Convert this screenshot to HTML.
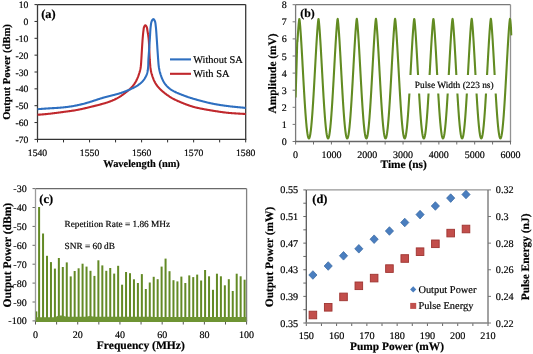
<!DOCTYPE html>
<html><head><meta charset="utf-8"><style>
html,body{margin:0;padding:0;background:#fff;width:533px;height:354px;overflow:hidden}
svg{display:block;font-family:'Liberation Serif',serif;will-change:transform;text-rendering:geometricPrecision}
</style></head><body>
<svg width="533" height="354" viewBox="0 0 533 354" font-family="'Liberation Serif', serif">
<rect width="533" height="354" fill="#fff"/>
<line x1="34.50" y1="4.60" x2="37.50" y2="4.60" stroke="#2b2b2b" stroke-width="1"/>
<text x="28.40" y="8.10" font-size="9.7" text-anchor="end" fill="#000" stroke="#000" stroke-width="0.18">10</text>
<line x1="34.50" y1="21.45" x2="37.50" y2="21.45" stroke="#2b2b2b" stroke-width="1"/>
<text x="28.40" y="24.95" font-size="9.7" text-anchor="end" fill="#000" stroke="#000" stroke-width="0.18">0</text>
<line x1="34.50" y1="38.30" x2="37.50" y2="38.30" stroke="#2b2b2b" stroke-width="1"/>
<text x="28.40" y="41.80" font-size="9.7" text-anchor="end" fill="#000" stroke="#000" stroke-width="0.18">-10</text>
<line x1="34.50" y1="55.15" x2="37.50" y2="55.15" stroke="#2b2b2b" stroke-width="1"/>
<text x="28.40" y="58.65" font-size="9.7" text-anchor="end" fill="#000" stroke="#000" stroke-width="0.18">-20</text>
<line x1="34.50" y1="72.00" x2="37.50" y2="72.00" stroke="#2b2b2b" stroke-width="1"/>
<text x="28.40" y="75.50" font-size="9.7" text-anchor="end" fill="#000" stroke="#000" stroke-width="0.18">-30</text>
<line x1="34.50" y1="88.85" x2="37.50" y2="88.85" stroke="#2b2b2b" stroke-width="1"/>
<text x="28.40" y="92.35" font-size="9.7" text-anchor="end" fill="#000" stroke="#000" stroke-width="0.18">-40</text>
<line x1="34.50" y1="105.70" x2="37.50" y2="105.70" stroke="#2b2b2b" stroke-width="1"/>
<text x="28.40" y="109.20" font-size="9.7" text-anchor="end" fill="#000" stroke="#000" stroke-width="0.18">-50</text>
<line x1="34.50" y1="122.55" x2="37.50" y2="122.55" stroke="#2b2b2b" stroke-width="1"/>
<text x="28.40" y="126.05" font-size="9.7" text-anchor="end" fill="#000" stroke="#000" stroke-width="0.18">-60</text>
<line x1="34.50" y1="139.40" x2="37.50" y2="139.40" stroke="#2b2b2b" stroke-width="1"/>
<text x="28.40" y="142.90" font-size="9.7" text-anchor="end" fill="#000" stroke="#000" stroke-width="0.18">-70</text>
<line x1="37.50" y1="139.40" x2="37.50" y2="142.40" stroke="#2b2b2b" stroke-width="1"/>
<text x="37.50" y="156.00" font-size="9.7" text-anchor="middle" fill="#000" stroke="#000" stroke-width="0.18">1540</text>
<line x1="63.52" y1="139.40" x2="63.52" y2="142.40" stroke="#2b2b2b" stroke-width="1"/>
<line x1="89.55" y1="139.40" x2="89.55" y2="142.40" stroke="#2b2b2b" stroke-width="1"/>
<text x="89.55" y="156.00" font-size="9.7" text-anchor="middle" fill="#000" stroke="#000" stroke-width="0.18">1550</text>
<line x1="115.57" y1="139.40" x2="115.57" y2="142.40" stroke="#2b2b2b" stroke-width="1"/>
<line x1="141.60" y1="139.40" x2="141.60" y2="142.40" stroke="#2b2b2b" stroke-width="1"/>
<text x="141.60" y="156.00" font-size="9.7" text-anchor="middle" fill="#000" stroke="#000" stroke-width="0.18">1560</text>
<line x1="167.62" y1="139.40" x2="167.62" y2="142.40" stroke="#2b2b2b" stroke-width="1"/>
<line x1="193.65" y1="139.40" x2="193.65" y2="142.40" stroke="#2b2b2b" stroke-width="1"/>
<text x="193.65" y="156.00" font-size="9.7" text-anchor="middle" fill="#000" stroke="#000" stroke-width="0.18">1570</text>
<line x1="219.67" y1="139.40" x2="219.67" y2="142.40" stroke="#2b2b2b" stroke-width="1"/>
<line x1="245.70" y1="139.40" x2="245.70" y2="142.40" stroke="#2b2b2b" stroke-width="1"/>
<text x="245.70" y="156.00" font-size="9.7" text-anchor="middle" fill="#000" stroke="#000" stroke-width="0.18">1580</text>
<line x1="37.50" y1="4.60" x2="245.70" y2="4.60" stroke="#333" stroke-width="1.3"/>
<line x1="245.70" y1="4.60" x2="245.70" y2="139.40" stroke="#3a3a3a" stroke-width="1.3"/>
<line x1="37.50" y1="4.60" x2="37.50" y2="139.40" stroke="#3a3a3a" stroke-width="1.3"/>
<line x1="36.90" y1="139.40" x2="246.30" y2="139.40" stroke="#333" stroke-width="1.3"/>
<text x="141.60" y="166.80" font-size="10.4" font-weight="bold" text-anchor="middle" fill="#000" stroke="#000" stroke-width="0.18">Wavelength (nm)</text>
<text x="10.10" y="72.00" font-size="10.6" font-weight="bold" text-anchor="middle" fill="#000" stroke="#000" stroke-width="0.18" transform="rotate(-90 10.1 72.0)">Output Power (dBm)</text>
<text x="41.20" y="17.50" font-size="12.4" font-weight="bold" text-anchor="start" fill="#000" stroke="#000" stroke-width="0.18">(a)</text>
<path d="M37.50,114.80 L39.74,114.63 L40.01,114.61 L40.31,114.58 L40.63,114.56 L40.97,114.53 L41.32,114.50 L41.69,114.47 L42.08,114.44 L42.48,114.40 L42.89,114.37 L43.32,114.33 L43.76,114.29 L44.20,114.25 L44.66,114.21 L45.12,114.17 L45.59,114.12 L46.06,114.08 L46.54,114.03 L47.03,113.98 L47.51,113.93 L48.00,113.88 L48.49,113.83 L48.98,113.78 L49.48,113.73 L49.97,113.67 L50.47,113.62 L50.96,113.56 L51.46,113.50 L51.96,113.44 L52.45,113.39 L52.95,113.33 L53.45,113.26 L53.94,113.20 L54.44,113.14 L54.94,113.08 L55.43,113.02 L55.93,112.95 L56.43,112.89 L56.92,112.82 L57.42,112.76 L57.92,112.69 L58.41,112.63 L58.91,112.56 L59.41,112.49 L59.90,112.43 L60.40,112.36 L60.89,112.29 L61.39,112.23 L61.89,112.16 L62.38,112.09 L62.88,112.03 L63.38,111.96 L63.87,111.89 L64.37,111.83 L64.86,111.76 L65.36,111.70 L65.86,111.63 L66.35,111.56 L66.85,111.50 L67.35,111.43 L67.84,111.37 L68.34,111.30 L68.83,111.23 L69.33,111.16 L69.83,111.09 L70.32,111.02 L70.82,110.95 L71.31,110.88 L71.81,110.81 L72.30,110.74 L72.80,110.66 L73.29,110.59 L73.79,110.51 L74.28,110.43 L74.78,110.35 L75.27,110.26 L75.76,110.18 L76.26,110.09 L76.75,110.00 L77.24,109.91 L77.73,109.82 L78.22,109.73 L78.72,109.63 L79.21,109.54 L79.70,109.44 L80.19,109.34 L80.68,109.24 L81.17,109.13 L81.66,109.03 L82.15,108.92 L82.63,108.82 L83.12,108.71 L83.61,108.60 L84.10,108.49 L84.59,108.37 L85.07,108.26 L85.56,108.14 L86.05,108.03 L86.54,107.91 L87.02,107.80 L87.51,107.68 L88.00,107.56 L88.48,107.44 L88.97,107.32 L89.46,107.20 L89.94,107.08 L90.43,106.96 L90.91,106.84 L91.40,106.72 L91.89,106.60 L92.37,106.48 L92.86,106.36 L93.34,106.24 L93.83,106.12 L94.32,106.00 L94.80,105.88 L95.29,105.76 L95.77,105.64 L96.26,105.52 L96.74,105.39 L97.23,105.27 L97.71,105.15 L98.20,105.02 L98.68,104.90 L99.17,104.77 L99.65,104.64 L100.14,104.51 L100.62,104.38 L101.10,104.25 L101.59,104.12 L102.07,103.99 L102.55,103.85 L103.03,103.72 L103.51,103.58 L103.99,103.44 L104.47,103.30 L104.95,103.15 L105.43,103.00 L105.91,102.86 L106.38,102.70 L106.86,102.55 L107.33,102.39 L107.81,102.24 L108.28,102.07 L108.75,101.91 L109.22,101.74 L109.69,101.57 L110.16,101.40 L110.63,101.22 L111.09,101.04 L111.56,100.86 L112.02,100.67 L112.48,100.48 L112.94,100.28 L113.40,100.09 L113.85,99.88 L114.31,99.68 L114.76,99.47 L115.21,99.25 L115.66,99.03 L116.10,98.81 L116.54,98.58 L116.98,98.34 L117.42,98.11 L117.85,97.86 L118.28,97.62 L118.71,97.36 L119.14,97.11 L119.56,96.85 L119.99,96.58 L120.40,96.31 L120.82,96.04 L121.23,95.76 L121.65,95.48 L122.06,95.20 L122.47,94.92 L122.87,94.63 L123.28,94.34 L123.68,94.04 L124.08,93.75 L124.48,93.45 L124.88,93.15 L125.28,92.85 L125.68,92.54 L126.07,92.24 L126.46,91.93 L126.86,91.62 L127.24,91.31 L127.63,91.00 L128.01,90.68 L128.40,90.36 L128.77,90.04 L129.15,89.72 L129.52,89.39 L129.88,89.05 L130.25,88.71 L130.60,88.37 L130.95,88.02 L131.30,87.67 L131.64,87.31 L131.97,86.95 L132.30,86.58 L132.62,86.21 L132.93,85.83 L133.24,85.44 L133.54,85.05 L133.83,84.66 L134.12,84.25 L134.40,83.85 L134.67,83.44 L134.94,83.02 L135.20,82.60 L135.45,82.18 L135.70,81.75 L135.94,81.31 L136.17,80.88 L136.40,80.44 L136.62,79.99 L136.83,79.55 L137.04,79.10 L137.25,78.64 L137.44,78.19 L137.64,77.73 L137.82,77.27 L138.01,76.81 L138.19,76.34 L138.37,75.88 L138.54,75.41 L138.71,74.94 L138.87,74.47 L139.02,74.00 L139.18,73.52 L139.33,73.05 L139.47,72.57 L139.61,72.09 L139.75,71.61 L139.88,71.13 L140.00,70.65 L140.11,70.16 L140.23,69.67 L140.33,69.19 L140.43,68.70 L140.53,68.21 L140.61,67.71 L140.69,67.22 L140.76,66.73 L140.82,66.23 L140.88,65.73 L140.93,65.24 L140.98,64.74 L141.02,64.24 L141.05,63.74 L141.09,63.24 L141.13,62.74 L141.16,62.24 L141.19,61.74 L141.22,61.24 L141.25,60.74 L141.28,60.24 L141.32,59.74 L141.36,59.24 L141.39,58.74 L141.42,58.24 L141.45,57.75 L141.48,57.25 L141.51,56.75 L141.54,56.25 L141.57,55.75 L141.60,55.25 L141.63,54.75 L141.65,54.25 L141.68,53.75 L141.71,53.25 L141.74,52.75 L141.77,52.25 L141.80,51.75 L141.83,51.25 L141.86,50.75 L141.89,50.25 L141.91,49.75 L141.94,49.25 L141.98,48.75 L142.01,48.25 L142.04,47.75 L142.07,47.25 L142.10,46.75 L142.13,46.25 L142.17,45.75 L142.20,45.25 L142.22,44.75 L142.26,44.25 L142.29,43.75 L142.32,43.25 L142.36,42.75 L142.39,42.25 L142.43,41.75 L142.46,41.25 L142.49,40.75 L142.53,40.25 L142.57,39.75 L142.61,39.25 L142.65,38.75 L142.69,38.26 L142.73,37.76 L142.77,37.26 L142.82,36.76 L142.86,36.26 L142.90,35.76 L142.94,35.26 L142.99,34.76 L143.04,34.26 L143.09,33.77 L143.14,33.27 L143.19,32.77 L143.24,32.27 L143.30,31.77 L143.36,31.28 L143.43,30.78 L143.49,30.28 L143.55,29.79 L143.61,29.29 L143.67,28.79 L143.75,28.30 L143.86,27.81 L143.98,27.33 L144.16,26.86 L144.36,26.40 L144.58,25.95 L144.85,25.53 L145.23,25.21 L145.67,25.39 L146.00,25.77 L146.28,26.18 L146.51,26.63 L146.73,27.08 L146.90,27.55 L147.03,28.03 L147.13,28.52 L147.21,29.01 L147.28,29.51 L147.35,30.01 L147.42,30.50 L147.50,31.00 L147.58,31.49 L147.66,31.98 L147.75,32.48 L147.83,32.97 L147.91,33.47 L147.99,33.96 L148.06,34.46 L148.14,34.95 L148.21,35.45 L148.28,35.94 L148.34,36.44 L148.41,36.94 L148.48,37.43 L148.54,37.93 L148.60,38.43 L148.65,38.92 L148.70,39.42 L148.75,39.92 L148.79,40.42 L148.84,40.92 L148.87,41.42 L148.91,41.92 L148.94,42.42 L148.96,42.92 L148.99,43.42 L149.02,43.92 L149.04,44.42 L149.07,44.92 L149.09,45.42 L149.12,45.92 L149.14,46.42 L149.16,46.92 L149.17,47.42 L149.20,47.92 L149.22,48.42 L149.25,48.92 L149.27,49.42 L149.30,49.92 L149.32,50.42 L149.34,50.92 L149.37,51.42 L149.40,51.92 L149.42,52.42 L149.45,52.92 L149.47,53.42 L149.49,53.92 L149.51,54.42 L149.53,54.92 L149.55,55.42 L149.58,55.92 L149.60,56.42 L149.63,56.92 L149.65,57.42 L149.68,57.92 L149.71,58.42 L149.74,58.92 L149.76,59.42 L149.80,59.92 L149.83,60.42 L149.86,60.92 L149.90,61.42 L149.93,61.92 L149.97,62.42 L150.00,62.92 L150.04,63.42 L150.08,63.92 L150.13,64.42 L150.17,64.91 L150.22,65.41 L150.27,65.91 L150.32,66.41 L150.38,66.90 L150.44,67.40 L150.49,67.90 L150.56,68.39 L150.62,68.88 L150.69,69.38 L150.76,69.87 L150.83,70.36 L150.92,70.85 L151.01,71.34 L151.11,71.82 L151.22,72.31 L151.34,72.79 L151.47,73.27 L151.62,73.74 L151.78,74.21 L151.94,74.67 L152.09,75.15 L152.23,75.62 L152.37,76.10 L152.53,76.57 L152.68,77.04 L152.84,77.50 L153.01,77.97 L153.18,78.43 L153.36,78.89 L153.54,79.35 L153.73,79.81 L153.93,80.26 L154.13,80.71 L154.34,81.15 L154.56,81.60 L154.79,82.03 L155.02,82.47 L155.26,82.89 L155.50,83.32 L155.76,83.74 L156.02,84.15 L156.29,84.56 L156.57,84.97 L156.86,85.37 L157.15,85.76 L157.45,86.15 L157.76,86.53 L158.08,86.91 L158.40,87.29 L158.73,87.66 L159.06,88.02 L159.40,88.38 L159.74,88.74 L160.09,89.09 L160.45,89.44 L160.81,89.78 L161.17,90.12 L161.54,90.45 L161.91,90.79 L162.28,91.12 L162.66,91.44 L163.04,91.76 L163.42,92.08 L163.81,92.40 L164.20,92.71 L164.59,93.02 L164.98,93.33 L165.38,93.63 L165.78,93.94 L166.18,94.24 L166.58,94.53 L166.98,94.83 L167.39,95.12 L167.80,95.40 L168.21,95.69 L168.62,95.97 L169.04,96.24 L169.45,96.52 L169.87,96.79 L170.29,97.05 L170.72,97.31 L171.14,97.57 L171.57,97.83 L172.00,98.07 L172.44,98.32 L172.87,98.56 L173.31,98.80 L173.75,99.03 L174.19,99.26 L174.64,99.48 L175.09,99.71 L175.53,99.92 L175.99,100.14 L176.44,100.35 L176.89,100.56 L177.34,100.77 L177.80,100.97 L178.26,101.17 L178.72,101.37 L179.17,101.57 L179.63,101.77 L180.09,101.96 L180.56,102.16 L181.02,102.35 L181.48,102.54 L181.94,102.73 L182.40,102.92 L182.87,103.11 L183.33,103.30 L183.79,103.49 L184.26,103.68 L184.72,103.86 L185.19,104.04 L185.66,104.22 L186.12,104.40 L186.59,104.58 L187.06,104.76 L187.53,104.93 L188.00,105.10 L188.47,105.27 L188.94,105.43 L189.41,105.59 L189.89,105.75 L190.36,105.91 L190.84,106.06 L191.31,106.21 L191.79,106.36 L192.27,106.50 L192.75,106.64 L193.23,106.78 L193.71,106.91 L194.19,107.04 L194.68,107.17 L195.16,107.30 L195.65,107.42 L196.13,107.54 L196.62,107.66 L197.10,107.77 L197.59,107.88 L198.08,107.99 L198.57,108.10 L199.06,108.21 L199.54,108.31 L200.03,108.41 L200.52,108.51 L201.02,108.61 L201.51,108.71 L202.00,108.81 L202.49,108.90 L202.98,108.99 L203.47,109.08 L203.97,109.17 L204.46,109.26 L204.95,109.35 L205.44,109.44 L205.94,109.52 L206.43,109.61 L206.92,109.69 L207.42,109.78 L207.91,109.86 L208.41,109.95 L208.90,110.03 L209.39,110.11 L209.89,110.19 L210.38,110.28 L210.87,110.36 L211.37,110.44 L211.86,110.52 L212.36,110.61 L212.85,110.69 L213.34,110.77 L213.84,110.85 L214.33,110.93 L214.83,111.01 L215.32,111.09 L215.82,111.17 L216.31,111.25 L216.80,111.33 L217.30,111.41 L217.79,111.49 L218.29,111.56 L218.78,111.64 L219.28,111.71 L219.77,111.79 L220.27,111.86 L220.76,111.93 L221.26,112.00 L221.75,112.07 L222.25,112.14 L222.75,112.21 L223.24,112.27 L223.74,112.34 L224.24,112.40 L224.73,112.46 L225.23,112.52 L225.73,112.57 L226.22,112.63 L226.72,112.68 L227.22,112.74 L227.72,112.79 L228.22,112.84 L228.71,112.88 L229.21,112.93 L229.71,112.97 L230.21,113.02 L230.71,113.06 L231.21,113.10 L231.71,113.14 L232.20,113.18 L232.70,113.21 L233.20,113.25 L233.70,113.29 L234.19,113.32 L234.68,113.35 L235.18,113.38 L235.67,113.42 L236.15,113.45 L236.64,113.48 L237.12,113.51 L237.60,113.53 L238.07,113.56 L238.53,113.59 L238.98,113.62 L239.43,113.64 L239.87,113.67 L240.30,113.69 L240.71,113.72 L241.11,113.74 L241.50,113.76 L241.87,113.78 L242.23,113.80 L242.56,113.82 L242.88,113.84 L243.18,113.86 L243.46,113.87 L245.70,114.00" fill="none" stroke="#c0282d" stroke-width="2.1" stroke-linejoin="round"/>
<path d="M37.50,109.20 L39.73,109.02 L40.01,109.00 L40.31,108.98 L40.63,108.95 L40.97,108.93 L41.32,108.90 L41.69,108.87 L42.08,108.84 L42.48,108.81 L42.89,108.78 L43.32,108.75 L43.76,108.72 L44.20,108.69 L44.66,108.66 L45.12,108.63 L45.59,108.60 L46.07,108.56 L46.55,108.53 L47.03,108.50 L47.52,108.47 L48.01,108.44 L48.50,108.41 L48.99,108.38 L49.49,108.35 L49.98,108.32 L50.48,108.29 L50.98,108.26 L51.48,108.23 L51.98,108.20 L52.48,108.17 L52.98,108.14 L53.48,108.11 L53.98,108.08 L54.47,108.05 L54.97,108.02 L55.47,107.99 L55.97,107.96 L56.47,107.93 L56.97,107.90 L57.47,107.86 L57.97,107.83 L58.47,107.79 L58.97,107.76 L59.47,107.72 L59.97,107.68 L60.46,107.64 L60.96,107.60 L61.46,107.56 L61.96,107.51 L62.46,107.47 L62.96,107.42 L63.45,107.37 L63.95,107.32 L64.45,107.27 L64.95,107.22 L65.44,107.16 L65.94,107.10 L66.44,107.04 L66.93,106.98 L67.43,106.92 L67.92,106.85 L68.42,106.79 L68.92,106.72 L69.41,106.65 L69.90,106.57 L70.40,106.50 L70.89,106.42 L71.39,106.34 L71.88,106.26 L72.37,106.18 L72.87,106.10 L73.36,106.01 L73.85,105.92 L74.34,105.83 L74.84,105.74 L75.33,105.65 L75.82,105.55 L76.31,105.45 L76.80,105.36 L77.29,105.25 L77.78,105.15 L78.27,105.05 L78.76,104.94 L79.24,104.83 L79.73,104.72 L80.22,104.61 L80.71,104.50 L81.19,104.38 L81.68,104.26 L82.16,104.14 L82.65,104.02 L83.13,103.90 L83.62,103.78 L84.10,103.65 L84.59,103.52 L85.07,103.39 L85.55,103.26 L86.03,103.12 L86.51,102.99 L86.99,102.85 L87.47,102.71 L87.95,102.57 L88.43,102.43 L88.91,102.28 L89.39,102.14 L89.87,101.99 L90.35,101.84 L90.82,101.69 L91.30,101.54 L91.78,101.38 L92.25,101.23 L92.73,101.07 L93.20,100.92 L93.68,100.76 L94.15,100.60 L94.63,100.44 L95.10,100.28 L95.57,100.13 L96.05,99.97 L96.52,99.81 L97.00,99.65 L97.47,99.50 L97.95,99.34 L98.42,99.19 L98.90,99.04 L99.38,98.88 L99.85,98.73 L100.33,98.59 L100.81,98.44 L101.29,98.29 L101.77,98.15 L102.25,98.01 L102.73,97.87 L103.21,97.73 L103.69,97.60 L104.17,97.46 L104.65,97.33 L105.14,97.20 L105.62,97.07 L106.10,96.94 L106.59,96.81 L107.07,96.69 L107.55,96.56 L108.04,96.44 L108.52,96.32 L109.01,96.20 L109.50,96.07 L109.98,95.95 L110.47,95.83 L110.95,95.71 L111.44,95.59 L111.92,95.47 L112.41,95.35 L112.89,95.23 L113.38,95.10 L113.86,94.98 L114.35,94.86 L114.83,94.73 L115.31,94.60 L115.80,94.47 L116.28,94.34 L116.76,94.21 L117.24,94.07 L117.72,93.94 L118.20,93.80 L118.68,93.65 L119.16,93.51 L119.64,93.36 L120.11,93.21 L120.59,93.06 L121.06,92.90 L121.54,92.74 L122.01,92.58 L122.48,92.42 L122.95,92.25 L123.42,92.08 L123.89,91.91 L124.36,91.73 L124.82,91.55 L125.29,91.37 L125.76,91.19 L126.22,91.01 L126.68,90.82 L127.15,90.63 L127.61,90.44 L128.07,90.24 L128.53,90.05 L128.99,89.85 L129.45,89.65 L129.90,89.45 L130.36,89.25 L130.81,89.04 L131.27,88.83 L131.72,88.62 L132.17,88.41 L132.62,88.19 L133.07,87.97 L133.52,87.75 L133.96,87.53 L134.40,87.30 L134.84,87.06 L135.28,86.83 L135.71,86.58 L136.14,86.34 L136.57,86.09 L136.99,85.83 L137.41,85.57 L137.82,85.30 L138.23,85.02 L138.64,84.74 L139.04,84.46 L139.43,84.16 L139.82,83.86 L140.20,83.55 L140.58,83.24 L140.94,82.91 L141.31,82.58 L141.66,82.24 L142.01,81.90 L142.34,81.55 L142.67,81.19 L142.99,80.82 L143.30,80.45 L143.61,80.07 L143.90,79.68 L144.18,79.29 L144.45,78.89 L144.72,78.48 L144.97,78.06 L145.21,77.64 L145.44,77.22 L145.66,76.79 L145.88,76.36 L146.10,75.92 L146.31,75.48 L146.50,75.04 L146.69,74.58 L146.86,74.13 L147.02,73.66 L147.16,73.19 L147.29,72.72 L147.41,72.24 L147.52,71.76 L147.61,71.28 L147.70,70.79 L147.77,70.30 L147.84,69.81 L147.91,69.32 L147.97,68.83 L148.03,68.33 L148.08,67.84 L148.12,67.34 L148.16,66.84 L148.19,66.34 L148.22,65.84 L148.25,65.34 L148.27,64.85 L148.28,64.35 L148.29,63.85 L148.30,63.35 L148.31,62.85 L148.32,62.34 L148.33,61.84 L148.35,61.34 L148.37,60.84 L148.39,60.34 L148.41,59.84 L148.43,59.34 L148.46,58.84 L148.49,58.35 L148.53,57.85 L148.57,57.35 L148.60,56.85 L148.64,56.35 L148.67,55.85 L148.71,55.35 L148.75,54.85 L148.78,54.35 L148.82,53.85 L148.85,53.35 L148.89,52.86 L148.93,52.36 L148.97,51.86 L149.00,51.36 L149.04,50.86 L149.07,50.36 L149.11,49.86 L149.14,49.36 L149.18,48.86 L149.21,48.36 L149.24,47.86 L149.27,47.36 L149.31,46.86 L149.34,46.36 L149.38,45.87 L149.41,45.37 L149.44,44.87 L149.47,44.37 L149.50,43.87 L149.54,43.37 L149.57,42.87 L149.60,42.37 L149.64,41.87 L149.67,41.37 L149.70,40.87 L149.74,40.37 L149.77,39.87 L149.80,39.37 L149.84,38.87 L149.87,38.37 L149.90,37.88 L149.92,37.38 L149.95,36.88 L149.98,36.38 L150.01,35.88 L150.04,35.38 L150.07,34.88 L150.10,34.38 L150.13,33.88 L150.15,33.38 L150.18,32.88 L150.21,32.38 L150.24,31.88 L150.27,31.38 L150.31,30.88 L150.34,30.38 L150.38,29.88 L150.42,29.38 L150.46,28.88 L150.50,28.39 L150.55,27.89 L150.60,27.39 L150.66,26.89 L150.71,26.40 L150.78,25.90 L150.84,25.40 L150.89,24.91 L150.96,24.41 L151.03,23.91 L151.10,23.42 L151.19,22.93 L151.30,22.44 L151.43,21.95 L151.58,21.48 L151.79,21.02 L152.00,20.57 L152.25,20.13 L152.52,19.71 L152.84,19.34 L153.27,19.10 L153.72,19.30 L154.05,19.67 L154.33,20.09 L154.58,20.52 L154.79,20.97 L154.99,21.43 L155.15,21.91 L155.27,22.39 L155.36,22.88 L155.44,23.38 L155.50,23.87 L155.57,24.37 L155.62,24.87 L155.67,25.37 L155.73,25.86 L155.78,26.36 L155.84,26.86 L155.90,27.36 L155.95,27.85 L156.00,28.35 L156.05,28.85 L156.09,29.35 L156.13,29.85 L156.17,30.35 L156.21,30.84 L156.25,31.34 L156.28,31.84 L156.32,32.34 L156.36,32.84 L156.39,33.34 L156.42,33.84 L156.46,34.34 L156.49,34.84 L156.52,35.34 L156.56,35.84 L156.59,36.34 L156.62,36.84 L156.66,37.33 L156.69,37.83 L156.73,38.33 L156.76,38.83 L156.80,39.33 L156.83,39.83 L156.87,40.33 L156.90,40.83 L156.94,41.33 L156.97,41.83 L157.00,42.33 L157.04,42.83 L157.07,43.33 L157.10,43.83 L157.13,44.32 L157.16,44.82 L157.20,45.32 L157.23,45.82 L157.26,46.32 L157.29,46.82 L157.32,47.32 L157.35,47.82 L157.38,48.32 L157.42,48.82 L157.45,49.32 L157.49,49.82 L157.52,50.32 L157.56,50.82 L157.59,51.32 L157.62,51.82 L157.65,52.31 L157.69,52.81 L157.72,53.31 L157.76,53.81 L157.79,54.31 L157.82,54.81 L157.86,55.31 L157.89,55.81 L157.92,56.31 L157.96,56.81 L157.99,57.31 L158.03,57.81 L158.06,58.31 L158.11,58.80 L158.15,59.30 L158.19,59.80 L158.22,60.30 L158.26,60.80 L158.30,61.30 L158.34,61.80 L158.38,62.30 L158.41,62.80 L158.45,63.30 L158.49,63.79 L158.54,64.29 L158.59,64.79 L158.64,65.29 L158.70,65.78 L158.76,66.28 L158.83,66.77 L158.90,67.27 L158.97,67.76 L159.06,68.26 L159.15,68.75 L159.24,69.24 L159.34,69.73 L159.45,70.22 L159.55,70.70 L159.67,71.19 L159.78,71.67 L159.91,72.16 L160.04,72.64 L160.17,73.12 L160.31,73.60 L160.45,74.07 L160.60,74.55 L160.76,75.02 L160.92,75.49 L161.08,75.96 L161.25,76.43 L161.43,76.89 L161.61,77.36 L161.79,77.82 L161.97,78.28 L162.16,78.74 L162.36,79.19 L162.57,79.64 L162.78,80.08 L163.00,80.53 L163.22,80.96 L163.46,81.40 L163.70,81.82 L163.94,82.25 L164.20,82.66 L164.47,83.08 L164.74,83.48 L165.02,83.88 L165.31,84.27 L165.61,84.66 L165.91,85.04 L166.23,85.41 L166.55,85.77 L166.88,86.13 L167.22,86.48 L167.57,86.82 L167.92,87.16 L168.29,87.48 L168.66,87.80 L169.03,88.12 L169.42,88.42 L169.81,88.72 L170.20,89.01 L170.61,89.29 L171.01,89.57 L171.42,89.84 L171.84,90.10 L172.26,90.36 L172.69,90.61 L173.12,90.86 L173.55,91.10 L173.99,91.33 L174.43,91.56 L174.87,91.78 L175.32,92.00 L175.77,92.22 L176.22,92.43 L176.67,92.64 L177.13,92.84 L177.58,93.04 L178.04,93.24 L178.50,93.44 L178.96,93.63 L179.42,93.82 L179.89,94.01 L180.35,94.19 L180.81,94.38 L181.28,94.56 L181.75,94.74 L182.21,94.92 L182.68,95.10 L183.15,95.27 L183.62,95.45 L184.08,95.62 L184.55,95.80 L185.02,95.97 L185.49,96.14 L185.97,96.31 L186.44,96.47 L186.91,96.64 L187.38,96.80 L187.85,96.97 L188.33,97.13 L188.80,97.29 L189.28,97.44 L189.75,97.60 L190.23,97.75 L190.70,97.91 L191.18,98.06 L191.66,98.21 L192.14,98.35 L192.61,98.50 L193.09,98.64 L193.57,98.79 L194.05,98.93 L194.53,99.07 L195.01,99.21 L195.49,99.35 L195.97,99.48 L196.46,99.62 L196.94,99.76 L197.42,99.89 L197.90,100.02 L198.38,100.16 L198.87,100.29 L199.35,100.42 L199.83,100.55 L200.31,100.68 L200.80,100.81 L201.28,100.94 L201.76,101.07 L202.25,101.20 L202.73,101.33 L203.22,101.45 L203.70,101.58 L204.18,101.71 L204.67,101.83 L205.15,101.95 L205.64,102.07 L206.13,102.19 L206.61,102.31 L207.10,102.43 L207.58,102.55 L208.07,102.66 L208.56,102.77 L209.05,102.89 L209.53,103.00 L210.02,103.10 L210.51,103.21 L211.00,103.32 L211.49,103.42 L211.98,103.52 L212.47,103.62 L212.96,103.72 L213.45,103.82 L213.94,103.91 L214.43,104.01 L214.92,104.10 L215.42,104.19 L215.91,104.28 L216.40,104.37 L216.89,104.45 L217.39,104.54 L217.88,104.62 L218.37,104.71 L218.87,104.79 L219.36,104.87 L219.85,104.95 L220.35,105.03 L220.84,105.10 L221.34,105.18 L221.83,105.26 L222.33,105.33 L222.82,105.40 L223.32,105.47 L223.81,105.54 L224.31,105.61 L224.80,105.68 L225.30,105.75 L225.79,105.82 L226.29,105.88 L226.79,105.94 L227.28,106.01 L227.78,106.07 L228.28,106.13 L228.77,106.19 L229.27,106.25 L229.77,106.31 L230.26,106.37 L230.76,106.42 L231.26,106.48 L231.75,106.53 L232.25,106.59 L232.75,106.64 L233.24,106.69 L233.74,106.74 L234.23,106.79 L234.72,106.84 L235.21,106.89 L235.70,106.94 L236.19,106.99 L236.67,107.04 L237.15,107.08 L237.62,107.13 L238.09,107.18 L238.55,107.22 L239.01,107.26 L239.45,107.31 L239.89,107.35 L240.32,107.39 L240.73,107.43 L241.13,107.47 L241.52,107.50 L241.89,107.54 L242.24,107.57 L242.57,107.60 L242.89,107.63 L243.19,107.66 L243.47,107.69 L245.70,107.90" fill="none" stroke="#2e6fc0" stroke-width="2.1" stroke-linejoin="round"/>
<line x1="170" y1="59.4" x2="191" y2="59.4" stroke="#2e6fc0" stroke-width="2.1"/>
<line x1="170" y1="73.8" x2="191" y2="73.8" stroke="#c0282d" stroke-width="2.1"/>
<text x="193.20" y="63.00" font-size="10.4" text-anchor="start" fill="#000" stroke="#000" stroke-width="0.18">Without SA</text>
<text x="193.20" y="77.30" font-size="10.4" text-anchor="start" fill="#000" stroke="#000" stroke-width="0.18">With SA</text>
<line x1="292.60" y1="141.50" x2="295.60" y2="141.50" stroke="#777" stroke-width="1"/>
<text x="286.80" y="145.00" font-size="10" text-anchor="end" fill="#000" stroke="#000" stroke-width="0.18">0</text>
<line x1="292.60" y1="124.40" x2="295.60" y2="124.40" stroke="#777" stroke-width="1"/>
<text x="286.80" y="127.90" font-size="10" text-anchor="end" fill="#000" stroke="#000" stroke-width="0.18">1</text>
<line x1="292.60" y1="107.30" x2="295.60" y2="107.30" stroke="#777" stroke-width="1"/>
<text x="286.80" y="110.80" font-size="10" text-anchor="end" fill="#000" stroke="#000" stroke-width="0.18">2</text>
<line x1="292.60" y1="90.20" x2="295.60" y2="90.20" stroke="#777" stroke-width="1"/>
<text x="286.80" y="93.70" font-size="10" text-anchor="end" fill="#000" stroke="#000" stroke-width="0.18">3</text>
<line x1="292.60" y1="73.10" x2="295.60" y2="73.10" stroke="#777" stroke-width="1"/>
<text x="286.80" y="76.60" font-size="10" text-anchor="end" fill="#000" stroke="#000" stroke-width="0.18">4</text>
<line x1="292.60" y1="56.00" x2="295.60" y2="56.00" stroke="#777" stroke-width="1"/>
<text x="286.80" y="59.50" font-size="10" text-anchor="end" fill="#000" stroke="#000" stroke-width="0.18">5</text>
<line x1="292.60" y1="38.90" x2="295.60" y2="38.90" stroke="#777" stroke-width="1"/>
<text x="286.80" y="42.40" font-size="10" text-anchor="end" fill="#000" stroke="#000" stroke-width="0.18">6</text>
<line x1="292.60" y1="21.80" x2="295.60" y2="21.80" stroke="#777" stroke-width="1"/>
<text x="286.80" y="25.30" font-size="10" text-anchor="end" fill="#000" stroke="#000" stroke-width="0.18">7</text>
<line x1="292.60" y1="4.70" x2="295.60" y2="4.70" stroke="#777" stroke-width="1"/>
<text x="286.80" y="8.20" font-size="10" text-anchor="end" fill="#000" stroke="#000" stroke-width="0.18">8</text>
<line x1="295.60" y1="141.50" x2="295.60" y2="144.50" stroke="#707070" stroke-width="1"/>
<text x="295.60" y="157.60" font-size="10" text-anchor="middle" fill="#000" stroke="#000" stroke-width="0.18">0</text>
<line x1="313.51" y1="141.50" x2="313.51" y2="144.50" stroke="#707070" stroke-width="1"/>
<line x1="331.42" y1="141.50" x2="331.42" y2="144.50" stroke="#707070" stroke-width="1"/>
<text x="331.42" y="157.60" font-size="10" text-anchor="middle" fill="#000" stroke="#000" stroke-width="0.18">1000</text>
<line x1="349.33" y1="141.50" x2="349.33" y2="144.50" stroke="#707070" stroke-width="1"/>
<line x1="367.23" y1="141.50" x2="367.23" y2="144.50" stroke="#707070" stroke-width="1"/>
<text x="367.23" y="157.60" font-size="10" text-anchor="middle" fill="#000" stroke="#000" stroke-width="0.18">2000</text>
<line x1="385.14" y1="141.50" x2="385.14" y2="144.50" stroke="#707070" stroke-width="1"/>
<line x1="403.05" y1="141.50" x2="403.05" y2="144.50" stroke="#707070" stroke-width="1"/>
<text x="403.05" y="157.60" font-size="10" text-anchor="middle" fill="#000" stroke="#000" stroke-width="0.18">3000</text>
<line x1="420.96" y1="141.50" x2="420.96" y2="144.50" stroke="#707070" stroke-width="1"/>
<line x1="438.87" y1="141.50" x2="438.87" y2="144.50" stroke="#707070" stroke-width="1"/>
<text x="438.87" y="157.60" font-size="10" text-anchor="middle" fill="#000" stroke="#000" stroke-width="0.18">4000</text>
<line x1="456.77" y1="141.50" x2="456.77" y2="144.50" stroke="#707070" stroke-width="1"/>
<line x1="474.68" y1="141.50" x2="474.68" y2="144.50" stroke="#707070" stroke-width="1"/>
<text x="474.68" y="157.60" font-size="10" text-anchor="middle" fill="#000" stroke="#000" stroke-width="0.18">5000</text>
<line x1="492.59" y1="141.50" x2="492.59" y2="144.50" stroke="#707070" stroke-width="1"/>
<line x1="510.50" y1="141.50" x2="510.50" y2="144.50" stroke="#707070" stroke-width="1"/>
<text x="510.50" y="157.60" font-size="10" text-anchor="middle" fill="#000" stroke="#000" stroke-width="0.18">6000</text>
<line x1="295.60" y1="4.70" x2="510.50" y2="4.70" stroke="#7a7a7a" stroke-width="1.3"/>
<line x1="510.50" y1="4.70" x2="510.50" y2="141.50" stroke="#929292" stroke-width="1.3"/>
<line x1="295.60" y1="4.70" x2="295.60" y2="141.50" stroke="#7a7a7a" stroke-width="1.3"/>
<line x1="295.00" y1="141.50" x2="511.10" y2="141.50" stroke="#666" stroke-width="1.3"/>
<clipPath id="cb"><rect x="295.6" y="4.7" width="216.89999999999998" height="136.8"/></clipPath>
<polyline clip-path="url(#cb)" points="295.60,97.50 295.75,92.27 295.91,87.05 296.06,81.82 296.22,76.60 296.37,71.37 296.53,66.14 296.68,60.92 296.83,55.69 296.99,50.46 297.14,45.24 297.30,40.01 297.45,41.65 297.60,39.17 297.76,36.75 297.91,34.41 298.07,32.15 298.22,29.99 298.38,27.92 298.53,25.98 298.68,24.17 298.84,22.52 298.99,21.05 299.15,19.82 299.30,18.94 299.46,19.21 299.61,20.24 299.76,21.57 299.92,23.10 300.07,24.82 300.23,26.68 300.38,28.67 300.53,30.77 300.69,32.97 300.84,35.26 301.00,37.63 301.15,40.07 301.31,42.58 301.46,45.14 301.61,47.75 301.77,50.40 301.92,53.09 302.08,55.80 302.23,58.55 302.39,61.31 302.54,64.08 302.69,66.87 302.85,69.65 303.00,72.44 303.16,75.22 303.31,77.98 303.46,80.73 303.62,83.46 303.77,86.16 303.93,88.84 304.08,91.48 304.24,94.08 304.39,96.64 304.54,99.15 304.70,101.62 304.85,104.03 305.01,106.38 305.16,108.67 305.32,110.90 305.47,113.06 305.62,115.15 305.78,117.16 305.93,119.10 306.09,120.96 306.24,122.74 306.40,124.43 306.55,126.03 306.70,127.55 306.86,128.97 307.01,130.30 307.17,131.54 307.32,132.67 307.47,133.71 307.63,134.65 307.78,135.48 307.94,136.21 308.09,136.84 308.25,137.36 308.40,137.78 308.55,138.09 308.71,138.29 308.86,138.39 309.02,138.38 309.17,138.26 309.33,138.04 309.48,137.71 309.63,137.27 309.79,136.73 309.94,136.08 310.10,135.33 310.25,134.48 310.40,133.52 310.56,132.46 310.71,131.31 310.87,130.06 311.02,128.71 311.18,127.27 311.33,125.74 311.48,124.12 311.64,122.41 311.79,120.62 311.95,118.74 312.10,116.79 312.26,114.76 312.41,112.66 312.56,110.48 312.72,108.24 312.87,105.94 313.03,103.58 313.18,101.16 313.33,98.68 313.49,96.16 313.64,93.59 313.80,90.98 313.95,88.34 314.11,85.66 314.26,82.95 314.41,80.21 314.57,77.46 314.72,74.69 314.88,71.91 315.03,69.13 315.19,66.34 315.34,63.56 315.49,60.79 315.65,58.03 315.80,55.29 315.96,52.58 316.11,49.89 316.26,47.25 316.42,44.65 316.57,42.10 316.73,39.61 316.88,37.18 317.04,34.82 317.19,32.55 317.34,30.36 317.50,28.28 317.65,26.32 317.81,24.48 317.96,22.80 318.12,21.30 318.27,20.02 318.42,19.06 318.58,19.07 318.73,20.03 318.89,21.31 319.04,22.82 319.19,24.50 319.35,26.34 319.50,28.30 319.66,30.39 319.81,32.57 319.97,34.85 320.12,37.20 320.27,39.63 320.43,42.13 320.58,44.68 320.74,47.28 320.89,49.92 321.05,52.60 321.20,55.32 321.35,58.06 321.51,60.82 321.66,63.59 321.82,66.37 321.97,69.16 322.12,71.94 322.28,74.72 322.43,77.49 322.59,80.24 322.74,82.98 322.90,85.69 323.05,88.36 323.20,91.01 323.36,93.62 323.51,96.19 323.67,98.71 323.82,101.18 323.98,103.60 324.13,105.97 324.28,108.27 324.44,110.51 324.59,112.68 324.75,114.78 324.90,116.81 325.05,118.76 325.21,120.64 325.36,122.43 325.52,124.13 325.67,125.75 325.83,127.29 325.98,128.73 326.13,130.07 326.29,131.32 326.44,132.48 326.60,133.53 326.75,134.49 326.91,135.34 327.06,136.09 327.21,136.74 327.37,137.28 327.52,137.71 327.68,138.04 327.83,138.27 327.99,138.38 328.14,138.39 328.29,138.29 328.45,138.09 328.60,137.78 328.76,137.36 328.91,136.83 329.06,136.20 329.22,135.47 329.37,134.64 329.53,133.70 329.68,132.66 329.84,131.52 329.99,130.29 330.14,128.96 330.30,127.53 330.45,126.02 330.61,124.41 330.76,122.72 330.92,120.94 331.07,119.08 331.22,117.14 331.38,115.13 331.53,113.04 331.69,110.88 331.84,108.65 331.99,106.35 332.15,104.00 332.30,101.59 332.46,99.13 332.61,96.61 332.77,94.05 332.92,91.45 333.07,88.81 333.23,86.14 333.38,83.43 333.54,80.70 333.69,77.95 333.85,75.19 334.00,72.41 334.15,69.62 334.31,66.84 334.46,64.05 334.62,61.28 334.77,58.52 334.92,55.77 335.08,53.06 335.23,50.37 335.39,47.72 335.54,45.11 335.70,42.55 335.85,40.04 336.00,37.60 336.16,35.23 336.31,32.94 336.47,30.74 336.62,28.64 336.78,26.66 336.93,24.80 337.08,23.09 337.24,21.55 337.39,20.23 337.55,19.20 337.70,18.95 337.85,19.83 338.01,21.07 338.16,22.54 338.32,24.19 338.47,26.00 338.63,27.95 338.78,30.01 338.93,32.17 339.09,34.43 339.24,36.78 339.40,39.19 339.55,41.68 339.71,44.22 339.86,46.81 340.01,49.45 340.17,52.13 340.32,54.83 340.48,57.57 340.63,60.32 340.78,63.10 340.94,65.88 341.09,68.66 341.25,71.45 341.40,74.23 341.56,77.00 341.71,79.76 341.86,82.49 342.02,85.21 342.17,87.89 342.33,90.54 342.48,93.16 342.64,95.73 342.79,98.26 342.94,100.75 343.10,103.18 343.25,105.55 343.41,107.86 343.56,110.11 343.71,112.30 343.87,114.41 344.02,116.45 344.18,118.42 344.33,120.31 344.49,122.12 344.64,123.84 344.79,125.47 344.95,127.02 345.10,128.48 345.26,129.84 345.41,131.11 345.57,132.28 345.72,133.35 345.87,134.32 346.03,135.19 346.18,135.96 346.34,136.63 346.49,137.19 346.64,137.64 346.80,137.99 346.95,138.23 347.11,138.37 347.26,138.40 347.42,138.32 347.57,138.13 347.72,137.84 347.88,137.44 348.03,136.93 348.19,136.32 348.34,135.61 348.50,134.79 348.65,133.87 348.80,132.85 348.96,131.73 349.11,130.51 349.27,129.20 349.42,127.79 349.57,126.29 349.73,124.70 349.88,123.03 350.04,121.26 350.19,119.42 350.35,117.49 350.50,115.49 350.65,113.41 350.81,111.26 350.96,109.05 351.12,106.77 351.27,104.42 351.43,102.02 351.58,99.57 351.73,97.06 351.89,94.51 352.04,91.92 352.20,89.28 352.35,86.61 352.51,83.91 352.66,81.19 352.81,78.44 352.97,75.68 353.12,72.90 353.28,70.12 353.43,67.33 353.58,64.55 353.74,61.77 353.89,59.01 354.05,56.26 354.20,53.54 354.36,50.84 354.51,48.19 354.66,45.57 354.82,43.00 354.97,40.49 355.13,38.03 355.28,35.65 355.44,33.35 355.59,31.13 355.74,29.01 355.90,27.00 356.05,25.12 356.21,23.38 356.36,21.81 356.51,20.44 356.67,19.35 356.82,18.85 356.98,19.64 357.13,20.83 357.29,22.26 357.44,23.88 357.59,25.67 357.75,27.59 357.90,29.63 358.06,31.78 358.21,34.03 358.37,36.36 358.52,38.76 358.67,41.23 358.83,43.76 358.98,46.35 359.14,48.98 359.29,51.65 359.44,54.35 359.60,57.08 359.75,59.83 359.91,62.60 360.06,65.38 360.22,68.17 360.37,70.95 360.52,73.73 360.68,76.51 360.83,79.27 360.99,82.01 361.14,84.72 361.30,87.41 361.45,90.07 361.60,92.70 361.76,95.28 361.91,97.82 362.07,100.31 362.22,102.75 362.37,105.13 362.53,107.46 362.68,109.72 362.84,111.91 362.99,114.04 363.15,116.10 363.30,118.08 363.45,119.98 363.61,121.80 363.76,123.54 363.92,125.19 364.07,126.75 364.23,128.22 364.38,129.60 364.53,130.89 364.69,132.08 364.84,133.17 365.00,134.16 365.15,135.05 365.30,135.83 365.46,136.52 365.61,137.10 365.77,137.57 365.92,137.94 366.08,138.20 366.23,138.35 366.38,138.40 366.54,138.34 366.69,138.17 366.85,137.90 367.00,137.52 367.16,137.03 367.31,136.44 367.46,135.74 367.62,134.94 367.77,134.04 367.93,133.04 368.08,131.94 368.23,130.74 368.39,129.44 368.54,128.05 368.70,126.57 368.85,124.99 369.01,123.33 369.16,121.58 369.31,119.75 369.47,117.84 369.62,115.85 369.78,113.79 369.93,111.65 370.09,109.45 370.24,107.18 370.39,104.85 370.55,102.45 370.70,100.01 370.86,97.51 371.01,94.97 371.17,92.38 371.32,89.75 371.47,87.09 371.63,84.40 371.78,81.68 371.94,78.93 372.09,76.17 372.24,73.40 372.40,70.61 372.55,67.83 372.71,65.04 372.86,62.26 373.02,59.50 373.17,56.75 373.32,54.02 373.48,51.32 373.63,48.66 373.79,46.03 373.94,43.45 374.10,40.93 374.25,38.46 374.40,36.07 374.56,33.75 374.71,31.52 374.87,29.38 375.02,27.35 375.17,25.44 375.33,23.68 375.48,22.07 375.64,20.67 375.79,19.52 375.95,18.80 376.10,19.47 376.25,20.60 376.41,21.99 376.56,23.58 376.72,25.34 376.87,27.24 377.03,29.26 377.18,31.39 377.33,33.62 377.49,35.94 377.64,38.33 377.80,40.79 377.95,43.31 378.10,45.88 378.26,48.51 378.41,51.17 378.57,53.87 378.72,56.59 378.88,59.34 379.03,62.11 379.18,64.89 379.34,67.67 379.49,70.46 379.65,73.24 379.80,76.02 379.96,78.78 380.11,81.52 380.26,84.24 380.42,86.94 380.57,89.60 380.73,92.23 380.88,94.82 381.03,97.37 381.19,99.87 381.34,102.32 381.50,104.71 381.65,107.05 381.81,109.32 381.96,111.53 382.11,113.67 382.27,115.74 382.42,117.73 382.58,119.65 382.73,121.48 382.89,123.23 383.04,124.90 383.19,126.48 383.35,127.97 383.50,129.37 383.66,130.67 383.81,131.87 383.96,132.98 384.12,133.99 384.27,134.90 384.43,135.70 384.58,136.40 384.74,137.00 384.89,137.49 385.04,137.88 385.20,138.16 385.35,138.33 385.51,138.40 385.66,138.36 385.82,138.21 385.97,137.96 386.12,137.59 386.28,137.13 386.43,136.55 386.59,135.88 386.74,135.09 386.89,134.21 387.05,133.23 387.20,132.14 387.36,130.96 387.51,129.68 387.67,128.30 387.82,126.84 387.97,125.28 388.13,123.63 388.28,121.90 388.44,120.08 388.59,118.19 388.75,116.21 388.90,114.16 389.05,112.04 389.21,109.84 389.36,107.59 389.52,105.26 389.67,102.88 389.82,100.45 389.98,97.96 390.13,95.42 390.29,92.84 390.44,90.22 390.60,87.57 390.75,84.88 390.90,82.16 391.06,79.42 391.21,76.66 391.37,73.89 391.52,71.11 391.68,68.32 391.83,65.54 391.98,62.76 392.14,59.99 392.29,57.24 392.45,54.50 392.60,51.80 392.75,49.13 392.91,46.49 393.06,43.91 393.22,41.37 393.37,38.90 393.53,36.49 393.68,34.16 393.83,31.91 393.99,29.75 394.14,27.70 394.30,25.77 394.45,23.98 394.61,22.35 394.76,20.90 394.91,19.70 395.07,18.88 395.22,19.30 395.38,20.37 395.53,21.73 395.69,23.29 395.84,25.02 395.99,26.89 396.15,28.89 396.30,31.01 396.46,33.22 396.61,35.52 396.76,37.90 396.92,40.35 397.07,42.86 397.23,45.42 397.38,48.04 397.54,50.69 397.69,53.38 397.84,56.11 398.00,58.85 398.15,61.61 398.31,64.39 398.46,67.18 398.62,69.96 398.77,72.75 398.92,75.52 399.08,78.29 399.23,81.03 399.39,83.76 399.54,86.46 399.69,89.13 399.85,91.77 400.00,94.37 400.16,96.92 400.31,99.43 400.47,101.89 400.62,104.29 400.77,106.64 400.93,108.92 401.08,111.14 401.24,113.29 401.39,115.37 401.55,117.38 401.70,119.31 401.85,121.16 402.01,122.93 402.16,124.61 402.32,126.21 402.47,127.71 402.62,129.12 402.78,130.44 402.93,131.67 403.09,132.79 403.24,133.82 403.40,134.74 403.55,135.57 403.70,136.29 403.86,136.90 404.01,137.41 404.17,137.82 404.32,138.12 404.48,138.31 404.63,138.40 404.78,138.37 404.94,138.24 405.09,138.01 405.25,137.67 405.40,137.22 405.55,136.66 405.71,136.00 405.86,135.24 406.02,134.38 406.17,133.41 406.33,132.34 406.48,131.18 406.63,129.91 406.79,128.56 406.94,127.11 407.10,125.56 407.25,123.93 407.41,122.21 407.56,120.41 407.71,118.53 407.87,116.57 408.02,114.53 408.18,112.42 408.33,110.24 408.48,107.99 408.64,105.68 408.79,103.31 408.95,100.89 409.10,98.41 409.26,95.88 409.41,93.31 409.56,90.69 409.72,88.04 409.87,85.36 410.03,82.65 410.18,79.91 410.34,77.16 410.49,74.39 410.64,71.61 410.80,68.82 410.95,66.03 411.11,63.25 411.26,60.48 411.41,57.72 411.57,54.99 411.72,52.28 411.88,49.60 412.03,46.96 412.19,44.36 412.34,41.82 412.49,39.33 412.65,36.91 412.80,34.57 412.96,32.30 413.11,30.13 413.27,28.06 413.42,26.11 413.57,24.29 413.73,22.62 413.88,21.14 414.04,19.90 414.19,18.98 414.35,19.15 414.50,20.16 414.65,21.47 414.81,23.00 414.96,24.70 415.12,26.55 415.27,28.53 415.42,30.62 415.58,32.82 415.73,35.10 415.89,37.47 416.04,39.90 416.20,42.41 416.35,44.96 416.50,47.57 416.66,50.22 416.81,52.90 416.97,55.62 417.12,58.36 417.28,61.12 417.43,63.90 417.58,66.68 417.74,69.47 417.89,72.25 418.05,75.03 418.20,77.80 418.35,80.55 418.51,83.28 418.66,85.98 418.82,88.66 418.97,91.30 419.13,93.91 419.28,96.47 419.43,98.99 419.59,101.45 419.74,103.87 419.90,106.22 420.05,108.52 420.21,110.75 420.36,112.92 420.51,115.01 420.67,117.03 420.82,118.97 420.98,120.84 421.13,122.62 421.28,124.32 421.44,125.93 421.59,127.45 421.75,128.88 421.90,130.22 422.06,131.46 422.21,132.60 422.36,133.64 422.52,134.59 422.67,135.43 422.83,136.17 422.98,136.80 423.14,137.33 423.29,137.75 423.44,138.07 423.60,138.28 423.75,138.39 423.91,138.39 424.06,138.28 424.21,138.06 424.37,137.73 424.52,137.30 424.68,136.77 424.83,136.13 424.99,135.38 425.14,134.54 425.29,133.59 425.45,132.54 425.60,131.39 425.76,130.15 425.91,128.80 426.07,127.37 426.22,125.84 426.37,124.23 426.53,122.53 426.68,120.74 426.84,118.87 426.99,116.92 427.14,114.90 427.30,112.80 427.45,110.63 427.61,108.40 427.76,106.10 427.92,103.74 428.07,101.32 428.22,98.85 428.38,96.33 428.53,93.77 428.69,91.16 428.84,88.52 429.00,85.84 429.15,83.13 429.30,80.40 429.46,77.65 429.61,74.88 429.77,72.10 429.92,69.32 430.07,66.53 430.23,63.75 430.38,60.97 430.54,58.21 430.69,55.47 430.85,52.76 431.00,50.07 431.15,47.43 431.31,44.82 431.46,42.27 431.62,39.77 431.77,37.34 431.93,34.98 432.08,32.70 432.23,30.51 432.39,28.42 432.54,26.44 432.70,24.60 432.85,22.91 433.00,21.39 433.16,20.10 433.31,19.11 433.47,19.02 433.62,19.96 433.78,21.22 433.93,22.71 434.08,24.38 434.24,26.21 434.39,28.17 434.55,30.24 434.70,32.42 434.86,34.69 435.01,37.04 435.16,39.47 435.32,41.96 435.47,44.50 435.63,47.10 435.78,49.74 435.94,52.42 436.09,55.14 436.24,57.87 436.40,60.63 436.55,63.40 436.71,66.18 436.86,68.97 437.01,71.76 437.17,74.54 437.32,77.31 437.48,80.06 437.63,82.79 437.79,85.50 437.94,88.19 438.09,90.83 438.25,93.45 438.40,96.02 438.56,98.54 438.71,101.02 438.87,103.44 439.02,105.81 439.17,108.12 439.33,110.36 439.48,112.54 439.64,114.64 439.79,116.68 439.94,118.63 440.10,120.51 440.25,122.31 440.41,124.02 440.56,125.65 440.72,127.19 440.87,128.63 441.02,129.98 441.18,131.24 441.33,132.40 441.49,133.46 441.64,134.43 441.80,135.28 441.95,136.04 442.10,136.70 442.26,137.24 442.41,137.69 442.57,138.02 442.72,138.25 442.87,138.38 443.03,138.39 443.18,138.30 443.34,138.10 443.49,137.80 443.65,137.39 443.80,136.87 443.95,136.25 444.11,135.52 444.26,134.70 444.42,133.76 444.57,132.73 444.73,131.60 444.88,130.37 445.03,129.05 445.19,127.63 445.34,126.12 445.50,124.52 445.65,122.84 445.80,121.06 445.96,119.21 446.11,117.27 446.27,115.26 446.42,113.18 446.58,111.02 446.73,108.80 446.88,106.51 447.04,104.16 447.19,101.75 447.35,99.29 447.50,96.78 447.66,94.23 447.81,91.63 447.96,88.99 448.12,86.32 448.27,83.61 448.43,80.89 448.58,78.14 448.73,75.37 448.89,72.59 449.04,69.81 449.20,67.02 449.35,64.24 449.51,61.46 449.66,58.70 449.81,55.96 449.97,53.24 450.12,50.55 450.28,47.89 450.43,45.28 450.59,42.72 450.74,40.21 450.89,37.77 451.05,35.39 451.20,33.10 451.36,30.89 451.51,28.78 451.66,26.79 451.82,24.92 451.97,23.20 452.13,21.65 452.28,20.31 452.44,19.26 452.59,18.91 452.74,19.76 452.90,20.98 453.05,22.43 453.21,24.07 453.36,25.87 453.52,27.81 453.67,29.87 453.82,32.03 453.98,34.28 454.13,36.62 454.29,39.03 454.44,41.51 454.59,44.05 454.75,46.64 454.90,49.27 455.06,51.94 455.21,54.65 455.37,57.38 455.52,60.14 455.67,62.91 455.83,65.69 455.98,68.47 456.14,71.26 456.29,74.04 456.45,76.81 456.60,79.57 456.75,82.31 456.91,85.02 457.06,87.71 457.22,90.37 457.37,92.98 457.52,95.56 457.68,98.10 457.83,100.58 457.99,103.01 458.14,105.39 458.30,107.71 458.45,109.96 458.60,112.15 458.76,114.27 458.91,116.32 459.07,118.29 459.22,120.18 459.38,122.00 459.53,123.72 459.68,125.37 459.84,126.92 459.99,128.38 460.15,129.75 460.30,131.03 460.46,132.20 460.61,133.28 460.76,134.26 460.92,135.14 461.07,135.91 461.23,136.59 461.38,137.15 461.53,137.62 461.69,137.97 461.84,138.22 462.00,138.36 462.15,138.40 462.31,138.33 462.46,138.15 462.61,137.86 462.77,137.47 462.92,136.97 463.08,136.37 463.23,135.66 463.39,134.85 463.54,133.94 463.69,132.92 463.85,131.81 464.00,130.60 464.16,129.29 464.31,127.89 464.46,126.40 464.62,124.81 464.77,123.14 464.93,121.38 465.08,119.54 465.24,117.62 465.39,115.63 465.54,113.55 465.70,111.41 465.85,109.20 466.01,106.92 466.16,104.58 466.32,102.19 466.47,99.74 466.62,97.23 466.78,94.68 466.93,92.09 467.09,89.46 467.24,86.79 467.39,84.10 467.55,81.37 467.70,78.63 467.86,75.86 468.01,73.09 468.17,70.31 468.32,67.52 468.47,64.74 468.63,61.96 468.78,59.19 468.94,56.44 469.09,53.72 469.25,51.02 469.40,48.36 469.55,45.74 469.71,43.17 469.86,40.65 470.02,38.20 470.17,35.81 470.32,33.50 470.48,31.27 470.63,29.15 470.79,27.13 470.94,25.24 471.10,23.49 471.25,21.91 471.40,20.53 471.56,19.42 471.71,18.82 471.87,19.58 472.02,20.74 472.18,22.16 472.33,23.77 472.48,25.54 472.64,27.46 472.79,29.49 472.95,31.64 473.10,33.87 473.25,36.20 473.41,38.60 473.56,41.06 473.72,43.59 473.87,46.17 474.03,48.80 474.18,51.47 474.33,54.17 474.49,56.90 474.64,59.65 474.80,62.41 474.95,65.19 475.11,67.98 475.26,70.77 475.41,73.55 475.57,76.32 475.72,79.08 475.88,81.82 476.03,84.54 476.18,87.24 476.34,89.90 476.49,92.52 476.65,95.11 476.80,97.65 476.96,100.14 477.11,102.59 477.26,104.97 477.42,107.30 477.57,109.57 477.73,111.77 477.88,113.90 478.04,115.96 478.19,117.95 478.34,119.85 478.50,121.68 478.65,123.42 478.81,125.08 478.96,126.65 479.12,128.13 479.27,129.51 479.42,130.81 479.58,132.00 479.73,133.10 479.89,134.09 480.04,134.99 480.19,135.78 480.35,136.47 480.50,137.06 480.66,137.54 480.81,137.92 480.97,138.18 481.12,138.35 481.27,138.40 481.43,138.35 481.58,138.19 481.74,137.92 481.89,137.55 482.05,137.07 482.20,136.48 482.35,135.79 482.51,135.00 482.66,134.11 482.82,133.11 482.97,132.02 483.12,130.82 483.28,129.53 483.43,128.15 483.59,126.67 483.74,125.10 483.90,123.45 484.05,121.70 484.20,119.88 484.36,117.97 484.51,115.99 484.67,113.93 484.82,111.80 484.98,109.60 485.13,107.33 485.28,105.00 485.44,102.62 485.59,100.18 485.75,97.68 485.90,95.14 486.05,92.56 486.21,89.93 486.36,87.27 486.52,84.58 486.67,81.86 486.83,79.12 486.98,76.36 487.13,73.58 487.29,70.80 487.44,68.02 487.60,65.23 487.75,62.45 487.91,59.68 488.06,56.93 488.21,54.20 488.37,51.50 488.52,48.83 488.68,46.21 488.83,43.62 488.98,41.10 489.14,38.63 489.29,36.23 489.45,33.90 489.60,31.66 489.76,29.52 489.91,27.48 490.06,25.57 490.22,23.79 490.37,22.18 490.53,20.76 490.68,19.59 490.84,18.83 490.99,19.40 491.14,20.51 491.30,21.89 491.45,23.47 491.61,25.22 491.76,27.11 491.91,29.12 492.07,31.25 492.22,33.47 492.38,35.78 492.53,38.16 492.69,40.62 492.84,43.14 492.99,45.71 493.15,48.33 493.30,50.99 493.46,53.68 493.61,56.41 493.77,59.16 493.92,61.92 494.07,64.70 494.23,67.48 494.38,70.27 494.54,73.05 494.69,75.83 494.84,78.59 495.00,81.34 495.15,84.06 495.31,86.76 495.46,89.43 495.62,92.06 495.77,94.65 495.92,97.20 496.08,99.70 496.23,102.16 496.39,104.55 496.54,106.89 496.70,109.17 496.85,111.38 497.00,113.53 497.16,115.60 497.31,117.60 497.47,119.52 497.62,121.36 497.77,123.12 497.93,124.79 498.08,126.38 498.24,127.87 498.39,129.27 498.55,130.58 498.70,131.80 498.85,132.91 499.01,133.92 499.16,134.84 499.32,135.65 499.47,136.36 499.63,136.96 499.78,137.46 499.93,137.86 500.09,138.14 500.24,138.32 500.40,138.40 500.55,138.36 500.70,138.22 500.86,137.98 501.01,137.62 501.17,137.16 501.32,136.59 501.48,135.92 501.63,135.15 501.78,134.27 501.94,133.30 502.09,132.22 502.25,131.04 502.40,129.77 502.56,128.40 502.71,126.94 502.86,125.39 503.02,123.75 503.17,122.02 503.33,120.21 503.48,118.32 503.64,116.35 503.79,114.30 503.94,112.18 504.10,109.99 504.25,107.74 504.41,105.42 504.56,103.05 504.71,100.61 504.87,98.13 505.02,95.60 505.18,93.02 505.33,90.40 505.49,87.75 505.64,85.06 505.79,82.34 505.95,79.61 506.10,76.85 506.26,74.08 506.41,71.30 506.57,68.51 506.72,65.73 506.87,62.94 507.03,60.17 507.18,57.42 507.34,54.69 507.49,51.98 507.64,49.31 507.80,46.67 507.95,44.08 508.11,41.54 508.26,39.06 508.42,36.65 508.57,34.31 508.72,32.06 508.88,29.89 509.03,27.84 509.19,25.90 509.34,24.10 509.50,22.45 509.65,20.99 509.80,19.77 509.96,18.91 510.11,19.24 510.27,20.29 510.42,21.63 510.57,23.18 510.73,24.90 510.88,26.76 511.04,28.76 511.19,30.86 511.35,33.07 511.50,35.36" fill="none" stroke="#628b22" stroke-width="2.1" stroke-linejoin="round"/>
<rect x="404" y="75" width="100" height="18.5" fill="#fff"/>
<text x="454.20" y="88.30" font-size="9.4" text-anchor="middle" fill="#000" stroke="#000" stroke-width="0.18">Pulse Width (223 ns)</text>
<text x="403.70" y="168.20" font-size="11.4" font-weight="bold" text-anchor="middle" fill="#000" stroke="#000" stroke-width="0.18">Time (ns)</text>
<text x="276.20" y="73.40" font-size="11.4" font-weight="bold" text-anchor="middle" fill="#000" stroke="#000" stroke-width="0.18" transform="rotate(-90 276.2 73.4)">Amplitude (mV)</text>
<text x="300.30" y="17.20" font-size="11.8" font-weight="bold" text-anchor="start" fill="#000" stroke="#000" stroke-width="0.18">(b)</text>
<line x1="32.50" y1="188.60" x2="35.50" y2="188.60" stroke="#6a6a6a" stroke-width="1"/>
<text x="26.70" y="192.10" font-size="10" text-anchor="end" fill="#000" stroke="#000" stroke-width="0.18">-30</text>
<line x1="32.50" y1="207.50" x2="35.50" y2="207.50" stroke="#6a6a6a" stroke-width="1"/>
<text x="26.70" y="211.00" font-size="10" text-anchor="end" fill="#000" stroke="#000" stroke-width="0.18">-40</text>
<line x1="32.50" y1="226.40" x2="35.50" y2="226.40" stroke="#6a6a6a" stroke-width="1"/>
<text x="26.70" y="229.90" font-size="10" text-anchor="end" fill="#000" stroke="#000" stroke-width="0.18">-50</text>
<line x1="32.50" y1="245.30" x2="35.50" y2="245.30" stroke="#6a6a6a" stroke-width="1"/>
<text x="26.70" y="248.80" font-size="10" text-anchor="end" fill="#000" stroke="#000" stroke-width="0.18">-60</text>
<line x1="32.50" y1="264.20" x2="35.50" y2="264.20" stroke="#6a6a6a" stroke-width="1"/>
<text x="26.70" y="267.70" font-size="10" text-anchor="end" fill="#000" stroke="#000" stroke-width="0.18">-70</text>
<line x1="32.50" y1="283.10" x2="35.50" y2="283.10" stroke="#6a6a6a" stroke-width="1"/>
<text x="26.70" y="286.60" font-size="10" text-anchor="end" fill="#000" stroke="#000" stroke-width="0.18">-80</text>
<line x1="32.50" y1="302.00" x2="35.50" y2="302.00" stroke="#6a6a6a" stroke-width="1"/>
<text x="26.70" y="305.50" font-size="10" text-anchor="end" fill="#000" stroke="#000" stroke-width="0.18">-90</text>
<line x1="32.50" y1="320.90" x2="35.50" y2="320.90" stroke="#6a6a6a" stroke-width="1"/>
<text x="26.70" y="324.40" font-size="10" text-anchor="end" fill="#000" stroke="#000" stroke-width="0.18">-100</text>
<line x1="35.50" y1="320.90" x2="35.50" y2="324.50" stroke="#555" stroke-width="1"/>
<text x="35.50" y="338.30" font-size="10" text-anchor="middle" fill="#000" stroke="#000" stroke-width="0.18">0</text>
<line x1="56.61" y1="320.90" x2="56.61" y2="324.50" stroke="#555" stroke-width="1"/>
<line x1="77.72" y1="320.90" x2="77.72" y2="324.50" stroke="#555" stroke-width="1"/>
<text x="77.72" y="338.30" font-size="10" text-anchor="middle" fill="#000" stroke="#000" stroke-width="0.18">20</text>
<line x1="98.83" y1="320.90" x2="98.83" y2="324.50" stroke="#555" stroke-width="1"/>
<line x1="119.94" y1="320.90" x2="119.94" y2="324.50" stroke="#555" stroke-width="1"/>
<text x="119.94" y="338.30" font-size="10" text-anchor="middle" fill="#000" stroke="#000" stroke-width="0.18">40</text>
<line x1="141.05" y1="320.90" x2="141.05" y2="324.50" stroke="#555" stroke-width="1"/>
<line x1="162.16" y1="320.90" x2="162.16" y2="324.50" stroke="#555" stroke-width="1"/>
<text x="162.16" y="338.30" font-size="10" text-anchor="middle" fill="#000" stroke="#000" stroke-width="0.18">60</text>
<line x1="183.27" y1="320.90" x2="183.27" y2="324.50" stroke="#555" stroke-width="1"/>
<line x1="204.38" y1="320.90" x2="204.38" y2="324.50" stroke="#555" stroke-width="1"/>
<text x="204.38" y="338.30" font-size="10" text-anchor="middle" fill="#000" stroke="#000" stroke-width="0.18">80</text>
<line x1="225.49" y1="320.90" x2="225.49" y2="324.50" stroke="#555" stroke-width="1"/>
<line x1="246.60" y1="320.90" x2="246.60" y2="324.50" stroke="#555" stroke-width="1"/>
<text x="246.60" y="338.30" font-size="10" text-anchor="middle" fill="#000" stroke="#000" stroke-width="0.18">100</text>
<clipPath id="cc"><rect x="35.80" y="188.60" width="210.80" height="133.40"/></clipPath>
<line x1="35.50" y1="188.60" x2="246.60" y2="188.60" stroke="#6a6a6a" stroke-width="1.3"/>
<line x1="246.60" y1="188.60" x2="246.60" y2="320.90" stroke="#828282" stroke-width="1.3"/>
<line x1="35.50" y1="188.60" x2="35.50" y2="320.90" stroke="#9a9a9a" stroke-width="1.3"/>
<line x1="34.90" y1="320.90" x2="247.20" y2="320.90" stroke="#888" stroke-width="1.3"/>
<g clip-path="url(#cc)">
<rect x="35.6" y="311.40" width="1.7" height="9.80" fill="#638a25"/>
<rect x="38.10" y="207.00" width="2.0" height="114.20" fill="#638a25"/>
<rect x="42.05" y="233.50" width="2.0" height="87.70" fill="#638a25"/>
<rect x="46.01" y="255.80" width="2.0" height="65.40" fill="#638a25"/>
<rect x="49.96" y="262.10" width="2.0" height="59.10" fill="#638a25"/>
<rect x="53.91" y="268.60" width="2.0" height="52.60" fill="#638a25"/>
<rect x="57.86" y="258.00" width="2.0" height="63.20" fill="#638a25"/>
<rect x="61.81" y="267.00" width="2.0" height="54.20" fill="#638a25"/>
<rect x="65.77" y="262.40" width="2.0" height="58.80" fill="#638a25"/>
<rect x="69.72" y="276.40" width="2.0" height="44.80" fill="#638a25"/>
<rect x="73.67" y="271.00" width="2.0" height="50.20" fill="#638a25"/>
<rect x="77.62" y="268.30" width="2.0" height="52.90" fill="#638a25"/>
<rect x="81.57" y="263.70" width="2.0" height="57.50" fill="#638a25"/>
<rect x="85.53" y="266.60" width="2.0" height="54.60" fill="#638a25"/>
<rect x="89.48" y="270.80" width="2.0" height="50.40" fill="#638a25"/>
<rect x="93.43" y="275.90" width="2.0" height="45.30" fill="#638a25"/>
<rect x="97.38" y="260.30" width="2.0" height="60.90" fill="#638a25"/>
<rect x="101.33" y="265.40" width="2.0" height="55.80" fill="#638a25"/>
<rect x="105.29" y="270.80" width="2.0" height="50.40" fill="#638a25"/>
<rect x="109.24" y="268.00" width="2.0" height="53.20" fill="#638a25"/>
<rect x="113.19" y="273.60" width="2.0" height="47.60" fill="#638a25"/>
<rect x="117.14" y="265.80" width="2.0" height="55.40" fill="#638a25"/>
<rect x="121.09" y="284.70" width="2.0" height="36.50" fill="#638a25"/>
<rect x="125.05" y="272.00" width="2.0" height="49.20" fill="#638a25"/>
<rect x="129.00" y="273.20" width="2.0" height="48.00" fill="#638a25"/>
<rect x="132.95" y="279.30" width="2.0" height="41.90" fill="#638a25"/>
<rect x="136.90" y="283.00" width="2.0" height="38.20" fill="#638a25"/>
<rect x="140.85" y="274.10" width="2.0" height="47.10" fill="#638a25"/>
<rect x="144.81" y="289.00" width="2.0" height="32.20" fill="#638a25"/>
<rect x="148.76" y="282.50" width="2.0" height="38.70" fill="#638a25"/>
<rect x="152.71" y="276.80" width="2.0" height="44.40" fill="#638a25"/>
<rect x="156.66" y="279.20" width="2.0" height="42.00" fill="#638a25"/>
<rect x="160.61" y="266.60" width="2.0" height="54.60" fill="#638a25"/>
<rect x="164.57" y="258.60" width="2.0" height="62.60" fill="#638a25"/>
<rect x="168.52" y="271.20" width="2.0" height="50.00" fill="#638a25"/>
<rect x="172.47" y="280.20" width="2.0" height="41.00" fill="#638a25"/>
<rect x="176.42" y="281.40" width="2.0" height="39.80" fill="#638a25"/>
<rect x="180.37" y="276.60" width="2.0" height="44.60" fill="#638a25"/>
<rect x="184.33" y="283.00" width="2.0" height="38.20" fill="#638a25"/>
<rect x="188.28" y="275.40" width="2.0" height="45.80" fill="#638a25"/>
<rect x="192.23" y="277.10" width="2.0" height="44.10" fill="#638a25"/>
<rect x="196.18" y="274.60" width="2.0" height="46.60" fill="#638a25"/>
<rect x="200.13" y="280.50" width="2.0" height="40.70" fill="#638a25"/>
<rect x="204.09" y="270.00" width="2.0" height="51.20" fill="#638a25"/>
<rect x="208.04" y="276.30" width="2.0" height="44.90" fill="#638a25"/>
<rect x="211.99" y="289.80" width="2.0" height="31.40" fill="#638a25"/>
<rect x="215.94" y="273.70" width="2.0" height="47.50" fill="#638a25"/>
<rect x="219.89" y="276.30" width="2.0" height="44.90" fill="#638a25"/>
<rect x="223.85" y="285.30" width="2.0" height="35.90" fill="#638a25"/>
<rect x="227.80" y="279.20" width="2.0" height="42.00" fill="#638a25"/>
<rect x="231.75" y="291.00" width="2.0" height="30.20" fill="#638a25"/>
<rect x="235.70" y="273.70" width="2.0" height="47.50" fill="#638a25"/>
<rect x="239.65" y="276.30" width="2.0" height="44.90" fill="#638a25"/>
<rect x="243.61" y="279.70" width="2.0" height="41.50" fill="#638a25"/>
<polygon points="35.5,317.20 36.5,317.20 37.5,317.20 38.5,317.20 39.5,317.20 40.5,317.20 41.5,317.20 42.5,317.20 43.5,317.20 44.5,317.20 45.5,317.20 46.5,317.20 47.5,317.20 48.5,317.20 49.5,317.20 50.5,317.20 51.5,317.20 52.5,317.20 53.5,317.20 54.5,317.20 55.5,316.97 56.5,316.50 57.5,316.03 58.5,315.75 59.5,315.65 60.5,315.55 61.5,315.45 62.5,315.55 63.5,315.85 64.5,316.15 65.5,316.45 66.5,316.61 67.5,316.62 68.5,316.63 69.5,316.64 70.5,316.65 71.5,316.66 72.5,316.67 73.5,316.68 74.5,316.69 75.5,316.70 76.5,316.71 77.5,316.72 78.5,316.73 79.5,316.74 80.5,316.75 81.5,316.76 82.5,316.77 83.5,316.78 84.5,316.79 85.5,316.72 86.5,316.56 87.5,316.40 88.5,316.24 89.5,316.08 90.5,316.08 91.5,316.24 92.5,316.40 93.5,316.56 94.5,316.72 95.5,316.80 96.5,316.80 97.5,316.80 98.5,316.80 99.5,316.81 100.5,316.81 101.5,316.81 102.5,316.81 103.5,316.81 104.5,316.81 105.5,316.81 106.5,316.82 107.5,316.82 108.5,316.82 109.5,316.82 110.5,316.82 111.5,316.82 112.5,316.82 113.5,316.82 114.5,316.83 115.5,316.83 116.5,316.83 117.5,316.83 118.5,316.83 119.5,316.83 120.5,316.83 121.5,316.83 122.5,316.84 123.5,316.84 124.5,316.84 125.5,316.84 126.5,316.84 127.5,316.84 128.5,316.84 129.5,316.85 130.5,316.85 131.5,316.85 132.5,316.85 133.5,316.85 134.5,316.85 135.5,316.85 136.5,316.85 137.5,316.86 138.5,316.86 139.5,316.86 140.5,316.86 141.5,316.86 142.5,316.86 143.5,316.86 144.5,316.87 145.5,316.87 146.5,316.87 147.5,316.87 148.5,316.87 149.5,316.87 150.5,316.87 151.5,316.87 152.5,316.88 153.5,316.88 154.5,316.88 155.5,316.88 156.5,316.88 157.5,316.88 158.5,316.88 159.5,316.89 160.5,316.89 161.5,316.89 162.5,316.89 163.5,316.89 164.5,316.89 165.5,316.89 166.5,316.89 167.5,316.90 168.5,316.90 169.5,316.90 170.5,316.90 171.5,316.90 172.5,316.90 173.5,316.90 174.5,316.90 175.5,316.91 176.5,316.91 177.5,316.91 178.5,316.91 179.5,316.91 180.5,316.91 181.5,316.91 182.5,316.92 183.5,316.92 184.5,316.92 185.5,316.92 186.5,316.92 187.5,316.92 188.5,316.92 189.5,316.92 190.5,316.93 191.5,316.93 192.5,316.93 193.5,316.93 194.5,316.93 195.5,316.93 196.5,316.93 197.5,316.94 198.5,316.94 199.5,316.94 200.5,316.94 201.5,316.94 202.5,316.94 203.5,316.94 204.5,316.94 205.5,316.95 206.5,316.95 207.5,316.95 208.5,316.95 209.5,316.95 210.5,316.95 211.5,316.95 212.5,316.96 213.5,316.96 214.5,316.96 215.5,316.96 216.5,316.96 217.5,316.96 218.5,316.96 219.5,316.96 220.5,316.97 221.5,316.97 222.5,316.97 223.5,316.97 224.5,316.97 225.5,316.97 226.5,316.97 227.5,316.97 228.5,316.98 229.5,316.98 230.5,316.98 231.5,316.98 232.5,316.98 233.5,316.98 234.5,316.98 235.5,316.99 236.5,316.99 237.5,316.99 238.5,316.99 239.5,316.99 240.5,316.99 241.5,316.99 242.5,316.99 243.5,317.00 244.5,317.00 245.5,317.00 246.5,317.00 246.6,321.9 35.5,321.9" fill="#6e9433"/>
</g>
<text x="64.50" y="227.30" font-size="9.3" text-anchor="start" fill="#000" stroke="#000" stroke-width="0.18">Repetition Rate = 1.86 MHz</text>
<text x="64.50" y="248.90" font-size="9.3" text-anchor="start" fill="#000" stroke="#000" stroke-width="0.18">SNR = 60 dB</text>
<text x="140.80" y="349.30" font-size="11.55" font-weight="bold" text-anchor="middle" fill="#000" stroke="#000" stroke-width="0.18">Frequency (MHz)</text>
<text x="11.40" y="255.20" font-size="11.6" font-weight="bold" text-anchor="middle" fill="#000" stroke="#000" stroke-width="0.18" transform="rotate(-90 11.4 255.2)">Output Power (dBm)</text>
<text x="39.30" y="203.20" font-size="12.4" font-weight="bold" text-anchor="start" fill="#000" stroke="#000" stroke-width="0.18">(c)</text>
<line x1="303.30" y1="189.90" x2="306.30" y2="189.90" stroke="#6a6a6a" stroke-width="1"/>
<text x="298.20" y="193.40" font-size="10.2" text-anchor="end" fill="#000" stroke="#000" stroke-width="0.18">0.55</text>
<line x1="303.30" y1="203.21" x2="306.30" y2="203.21" stroke="#6a6a6a" stroke-width="1"/>
<line x1="303.30" y1="216.52" x2="306.30" y2="216.52" stroke="#6a6a6a" stroke-width="1"/>
<text x="298.20" y="220.02" font-size="10.2" text-anchor="end" fill="#000" stroke="#000" stroke-width="0.18">0.51</text>
<line x1="303.30" y1="229.83" x2="306.30" y2="229.83" stroke="#6a6a6a" stroke-width="1"/>
<line x1="303.30" y1="243.14" x2="306.30" y2="243.14" stroke="#6a6a6a" stroke-width="1"/>
<text x="298.20" y="246.64" font-size="10.2" text-anchor="end" fill="#000" stroke="#000" stroke-width="0.18">0.47</text>
<line x1="303.30" y1="256.45" x2="306.30" y2="256.45" stroke="#6a6a6a" stroke-width="1"/>
<line x1="303.30" y1="269.76" x2="306.30" y2="269.76" stroke="#6a6a6a" stroke-width="1"/>
<text x="298.20" y="273.26" font-size="10.2" text-anchor="end" fill="#000" stroke="#000" stroke-width="0.18">0.43</text>
<line x1="303.30" y1="283.07" x2="306.30" y2="283.07" stroke="#6a6a6a" stroke-width="1"/>
<line x1="303.30" y1="296.38" x2="306.30" y2="296.38" stroke="#6a6a6a" stroke-width="1"/>
<text x="298.20" y="299.88" font-size="10.2" text-anchor="end" fill="#000" stroke="#000" stroke-width="0.18">0.39</text>
<line x1="303.30" y1="309.69" x2="306.30" y2="309.69" stroke="#6a6a6a" stroke-width="1"/>
<line x1="303.30" y1="323.00" x2="306.30" y2="323.00" stroke="#6a6a6a" stroke-width="1"/>
<text x="298.20" y="326.50" font-size="10.2" text-anchor="end" fill="#000" stroke="#000" stroke-width="0.18">0.35</text>
<line x1="488.00" y1="189.90" x2="491.00" y2="189.90" stroke="#777" stroke-width="1"/>
<text x="495.80" y="193.40" font-size="10.2" text-anchor="start" fill="#000" stroke="#000" stroke-width="0.18">0.32</text>
<line x1="488.00" y1="216.52" x2="491.00" y2="216.52" stroke="#777" stroke-width="1"/>
<text x="495.80" y="220.02" font-size="10.2" text-anchor="start" fill="#000" stroke="#000" stroke-width="0.18">0.3</text>
<line x1="488.00" y1="243.14" x2="491.00" y2="243.14" stroke="#777" stroke-width="1"/>
<text x="495.80" y="246.64" font-size="10.2" text-anchor="start" fill="#000" stroke="#000" stroke-width="0.18">0.28</text>
<line x1="488.00" y1="269.76" x2="491.00" y2="269.76" stroke="#777" stroke-width="1"/>
<text x="495.80" y="273.26" font-size="10.2" text-anchor="start" fill="#000" stroke="#000" stroke-width="0.18">0.26</text>
<line x1="488.00" y1="296.38" x2="491.00" y2="296.38" stroke="#777" stroke-width="1"/>
<text x="495.80" y="299.88" font-size="10.2" text-anchor="start" fill="#000" stroke="#000" stroke-width="0.18">0.24</text>
<line x1="488.00" y1="323.00" x2="491.00" y2="323.00" stroke="#777" stroke-width="1"/>
<text x="495.80" y="326.50" font-size="10.2" text-anchor="start" fill="#000" stroke="#000" stroke-width="0.18">0.22</text>
<line x1="306.30" y1="323.00" x2="306.30" y2="326.00" stroke="#666" stroke-width="1"/>
<text x="306.30" y="339.30" font-size="10.2" text-anchor="middle" fill="#000" stroke="#000" stroke-width="0.18">150</text>
<line x1="321.44" y1="323.00" x2="321.44" y2="326.00" stroke="#666" stroke-width="1"/>
<line x1="336.58" y1="323.00" x2="336.58" y2="326.00" stroke="#666" stroke-width="1"/>
<text x="336.58" y="339.30" font-size="10.2" text-anchor="middle" fill="#000" stroke="#000" stroke-width="0.18">160</text>
<line x1="351.73" y1="323.00" x2="351.73" y2="326.00" stroke="#666" stroke-width="1"/>
<line x1="366.87" y1="323.00" x2="366.87" y2="326.00" stroke="#666" stroke-width="1"/>
<text x="366.87" y="339.30" font-size="10.2" text-anchor="middle" fill="#000" stroke="#000" stroke-width="0.18">170</text>
<line x1="382.01" y1="323.00" x2="382.01" y2="326.00" stroke="#666" stroke-width="1"/>
<line x1="397.15" y1="323.00" x2="397.15" y2="326.00" stroke="#666" stroke-width="1"/>
<text x="397.15" y="339.30" font-size="10.2" text-anchor="middle" fill="#000" stroke="#000" stroke-width="0.18">180</text>
<line x1="412.29" y1="323.00" x2="412.29" y2="326.00" stroke="#666" stroke-width="1"/>
<line x1="427.43" y1="323.00" x2="427.43" y2="326.00" stroke="#666" stroke-width="1"/>
<text x="427.43" y="339.30" font-size="10.2" text-anchor="middle" fill="#000" stroke="#000" stroke-width="0.18">190</text>
<line x1="442.58" y1="323.00" x2="442.58" y2="326.00" stroke="#666" stroke-width="1"/>
<line x1="457.72" y1="323.00" x2="457.72" y2="326.00" stroke="#666" stroke-width="1"/>
<text x="457.72" y="339.30" font-size="10.2" text-anchor="middle" fill="#000" stroke="#000" stroke-width="0.18">200</text>
<line x1="472.86" y1="323.00" x2="472.86" y2="326.00" stroke="#666" stroke-width="1"/>
<line x1="488.00" y1="323.00" x2="488.00" y2="326.00" stroke="#666" stroke-width="1"/>
<text x="488.00" y="339.30" font-size="10.2" text-anchor="middle" fill="#000" stroke="#000" stroke-width="0.18">210</text>
<line x1="306.30" y1="189.90" x2="488.00" y2="189.90" stroke="#969696" stroke-width="1.3"/>
<line x1="488.00" y1="189.90" x2="488.00" y2="323.00" stroke="#707070" stroke-width="1.3"/>
<line x1="306.30" y1="189.90" x2="306.30" y2="323.00" stroke="#5a5a5a" stroke-width="1.3"/>
<line x1="305.70" y1="323.00" x2="488.60" y2="323.00" stroke="#858585" stroke-width="1.3"/>
<rect x="309.10" y="311.20" width="7.6" height="7.6" fill="#c24e4b" stroke="#9e3431" stroke-width="0.9"/>
<rect x="324.41" y="303.50" width="7.6" height="7.6" fill="#c24e4b" stroke="#9e3431" stroke-width="0.9"/>
<rect x="339.72" y="293.10" width="7.6" height="7.6" fill="#c24e4b" stroke="#9e3431" stroke-width="0.9"/>
<rect x="355.03" y="282.00" width="7.6" height="7.6" fill="#c24e4b" stroke="#9e3431" stroke-width="0.9"/>
<rect x="370.34" y="274.30" width="7.6" height="7.6" fill="#c24e4b" stroke="#9e3431" stroke-width="0.9"/>
<rect x="385.65" y="264.80" width="7.6" height="7.6" fill="#c24e4b" stroke="#9e3431" stroke-width="0.9"/>
<rect x="400.96" y="254.70" width="7.6" height="7.6" fill="#c24e4b" stroke="#9e3431" stroke-width="0.9"/>
<rect x="416.27" y="247.90" width="7.6" height="7.6" fill="#c24e4b" stroke="#9e3431" stroke-width="0.9"/>
<rect x="431.58" y="240.00" width="7.6" height="7.6" fill="#c24e4b" stroke="#9e3431" stroke-width="0.9"/>
<rect x="446.89" y="229.30" width="7.6" height="7.6" fill="#c24e4b" stroke="#9e3431" stroke-width="0.9"/>
<rect x="462.20" y="225.20" width="7.6" height="7.6" fill="#c24e4b" stroke="#9e3431" stroke-width="0.9"/>
<path d="M312.90,270.70 L317.00,275.00 L312.90,279.30 L308.80,275.00 Z" fill="#4a7ebf" stroke="#33649f" stroke-width="0.7"/>
<path d="M328.21,261.70 L332.31,266.00 L328.21,270.30 L324.11,266.00 Z" fill="#4a7ebf" stroke="#33649f" stroke-width="0.7"/>
<path d="M343.52,251.50 L347.62,255.80 L343.52,260.10 L339.42,255.80 Z" fill="#4a7ebf" stroke="#33649f" stroke-width="0.7"/>
<path d="M358.83,244.50 L362.93,248.80 L358.83,253.10 L354.73,248.80 Z" fill="#4a7ebf" stroke="#33649f" stroke-width="0.7"/>
<path d="M374.14,234.90 L378.24,239.20 L374.14,243.50 L370.04,239.20 Z" fill="#4a7ebf" stroke="#33649f" stroke-width="0.7"/>
<path d="M389.45,226.70 L393.55,231.00 L389.45,235.30 L385.35,231.00 Z" fill="#4a7ebf" stroke="#33649f" stroke-width="0.7"/>
<path d="M404.76,218.20 L408.86,222.50 L404.76,226.80 L400.66,222.50 Z" fill="#4a7ebf" stroke="#33649f" stroke-width="0.7"/>
<path d="M420.07,210.30 L424.17,214.60 L420.07,218.90 L415.97,214.60 Z" fill="#4a7ebf" stroke="#33649f" stroke-width="0.7"/>
<path d="M435.38,201.70 L439.48,206.00 L435.38,210.30 L431.28,206.00 Z" fill="#4a7ebf" stroke="#33649f" stroke-width="0.7"/>
<path d="M450.69,193.80 L454.79,198.10 L450.69,202.40 L446.59,198.10 Z" fill="#4a7ebf" stroke="#33649f" stroke-width="0.7"/>
<path d="M466.00,190.20 L470.10,194.50 L466.00,198.80 L461.90,194.50 Z" fill="#4a7ebf" stroke="#33649f" stroke-width="0.7"/>
<path d="M413.20,286.20 L416.30,289.40 L413.20,292.60 L410.10,289.40 Z" fill="#4a7ebf"/>
<rect x="410.20" y="302.90" width="6" height="6" fill="#c0504d"/>
<text x="418.40" y="292.70" font-size="10.4" text-anchor="start" fill="#000" stroke="#000" stroke-width="0.18">Output Power</text>
<text x="418.40" y="308.80" font-size="10.4" text-anchor="start" fill="#000" stroke="#000" stroke-width="0.18">Pulse Energy</text>
<text x="397.00" y="349.80" font-size="11.4" font-weight="bold" text-anchor="middle" fill="#000" stroke="#000" stroke-width="0.18">Pump Power (mW)</text>
<text x="273.40" y="257.00" font-size="11.4" font-weight="bold" text-anchor="middle" fill="#000" stroke="#000" stroke-width="0.18" transform="rotate(-90 273.4 257.0)">Output Power (mW)</text>
<text x="529.00" y="256.90" font-size="11.4" font-weight="bold" text-anchor="middle" fill="#000" stroke="#000" stroke-width="0.18" transform="rotate(-90 529.0 256.9)">Pulse Energy (nJ)</text>
<text x="312.30" y="203.40" font-size="12.4" font-weight="bold" text-anchor="start" fill="#000" stroke="#000" stroke-width="0.18">(d)</text>
</svg>
</body></html>
